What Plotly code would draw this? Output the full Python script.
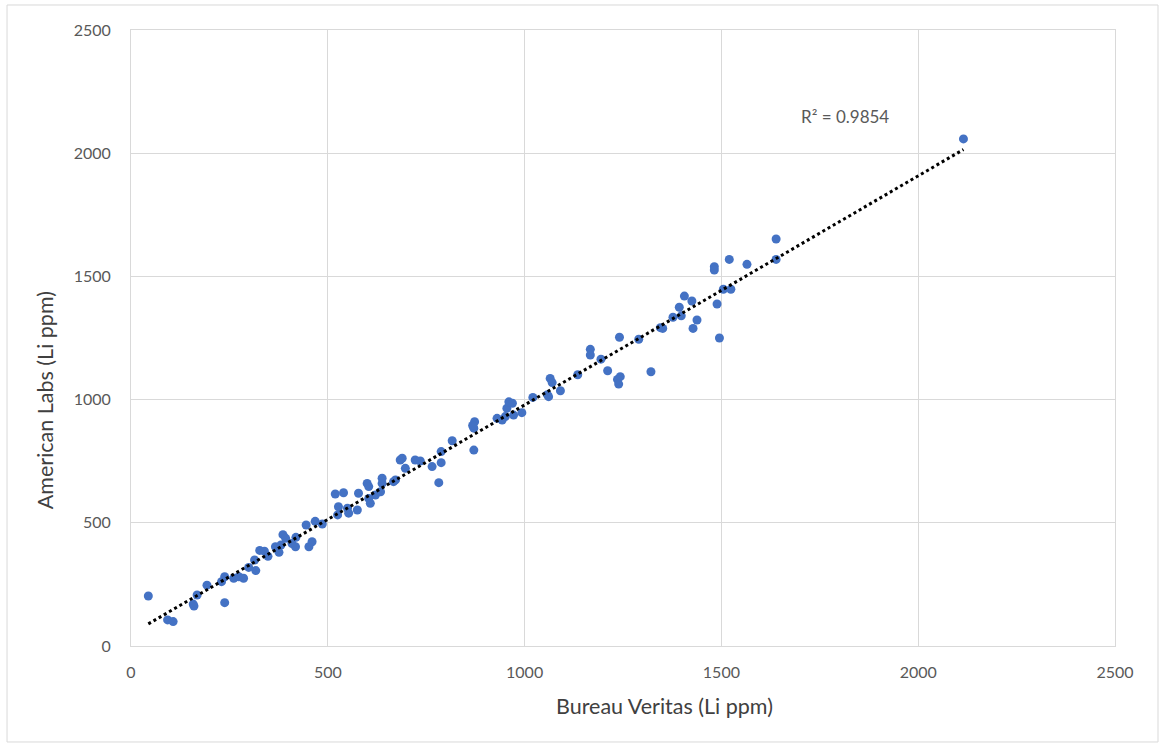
import numpy as np
import plotly.graph_objects as go

# Bureau Veritas (Li ppm) vs American Labs (Li ppm)
bureau_veritas = [
    44, 93, 107, 158, 160, 168, 193, 238, 230, 238, 261, 274, 286, 299, 314, 317,
    327, 339, 348, 367, 376, 381, 386, 393, 409, 418, 419, 445, 452, 460, 468, 486,
    519, 540, 527, 525, 550, 553, 575, 578, 600, 604, 604, 608, 621, 638, 638, 634,
    667, 672, 684, 689, 697, 722, 735, 765, 782, 788, 788, 816, 871, 871, 873, 868,
    930, 943, 951, 955, 960, 969, 972, 993,
    1021, 1061, 1065, 1070, 1091, 1135, 1167, 1167, 1194, 1211, 1236, 1243, 1239,
    1241, 1290, 1321, 1345, 1351, 1058,
    1377, 1393, 1398, 1406, 1425, 1428, 1438, 1482, 1482, 1489, 1495, 1505, 1520,
    1524, 1565, 1639, 1639, 2115,
]
american_labs = [
    203, 106, 99, 170, 162, 207, 247, 176, 261, 281, 275, 281, 275, 319, 349, 306,
    388, 385, 364, 403, 380, 410, 452, 437, 416, 403, 441, 491, 403, 423, 506, 495,
    617, 622, 565, 532, 559, 539, 552, 620, 660, 647, 599, 579, 613, 681, 660, 626,
    667, 674, 755, 762, 721, 755, 751, 728, 663, 789, 744, 833, 795, 884, 910, 895,
    924, 917, 931, 965, 991, 985, 937, 947,
    1009, 1012, 1086, 1069, 1036, 1101, 1204, 1181, 1164, 1117, 1082, 1093, 1063,
    1253, 1245, 1113, 1292, 1289, 1020,
    1334, 1375, 1340, 1420, 1400, 1289, 1323, 1539, 1526, 1388, 1250, 1448, 1569,
    1448, 1549, 1652, 1569, 2058,
]
r2_label = "R² = 0.9854"
x_title = "Bureau Veritas (Li ppm)"
y_title = "American Labs (Li ppm)"
x_ticks = [0, 500, 1000, 1500, 2000, 2500]
y_ticks = [0, 500, 1000, 1500, 2000, 2500]

x = np.array(bureau_veritas, dtype=float)
y = np.array(american_labs, dtype=float)
slope, intercept = np.polyfit(x, y, 1)
tx = np.array([x.min(), x.max()])
ty = slope * tx + intercept

FONT = "Lato, Carlito, sans-serif"

fig = go.Figure()
fig.add_trace(go.Scatter(
    x=bureau_veritas, y=american_labs, mode="markers",
    marker=dict(color="#4472C4", size=9, line=dict(width=0)),
    showlegend=False, hoverinfo="x+y",
))
fig.add_trace(go.Scatter(
    x=tx, y=ty, mode="lines",
    line=dict(color="#000000", width=3, dash="dot"),
    showlegend=False, hoverinfo="skip",
))

fig.add_annotation(x=1814, y=2147, text=r2_label, showarrow=False,
                   font=dict(family=FONT, size=17, color="#595959"))

# axis titles (placed where the reference has them)
fig.add_annotation(xref="paper", yref="paper", x=0.5417, y=-0.0974,
                   text=x_title, showarrow=False, xanchor="center", yanchor="middle",
                   font=dict(family=FONT, size=21.5, color="#404040"))
fig.add_annotation(xref="paper", yref="paper", x=-0.0874, y=0.399,
                   text=y_title, showarrow=False, textangle=-90,
                   xanchor="center", yanchor="middle",
                   font=dict(family=FONT, size=21.5, color="#404040"))

# outer chart border
fig.add_shape(type="rect", xref="paper", yref="paper",
              x0=-0.126, x1=1.0437, y0=-0.1558, y1=1.0406,
              line=dict(color="#d9d9d9", width=1), fillcolor="rgba(0,0,0,0)", layer="below")

axis_common = dict(
    showgrid=True, gridcolor="#d9d9d9", gridwidth=1,
    showline=True, mirror=True, linecolor="#d9d9d9", linewidth=1,
    zeroline=False, ticks="outside", tickcolor="rgba(0,0,0,0)",
    tickfont=dict(family=FONT, size=16, color="#595959"),
)
fig.update_xaxes(range=[0, 2500], tickvals=x_ticks, ticklen=12, **axis_common)
fig.update_yaxes(range=[0, 2500], tickvals=y_ticks, ticklen=16, **axis_common)

fig.update_layout(
    width=1165, height=747,
    margin=dict(l=131, r=50, t=30, b=101),
    plot_bgcolor="white", paper_bgcolor="white",
)
fig.write_html("out.html", config={"displayModeBar": False},
               post_script="document.body.style.margin='0';document.body.style.overflow='hidden';")
